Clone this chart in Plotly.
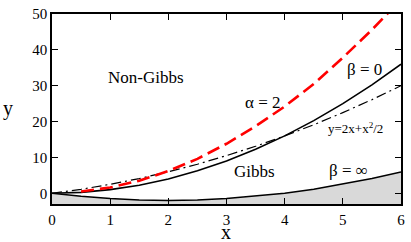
import plotly.graph_objects as go

# Read values from the reference picture
x_vals = [0, 0.5, 1, 1.5, 2, 2.5, 3, 3.5, 4, 4.5, 5, 5.5, 6]
beta0 = [0, 0.25, 1, 2.25, 4, 6.25, 9, 12.25, 16, 20.25, 25, 30.25, 36]
dashdot = [0, 1.1, 2.5, 4.1, 6, 8.1, 10.5, 13.1, 16, 19.1, 22.5, 26.1, 30]
alpha_x = [0.5, 1, 1.5, 2, 2.5, 3, 3.5, 4, 4.5, 5, 5.5, 6]
alpha2 = [0.5, 1.6, 3.5, 6.2, 9.6, 13.8, 18.7, 24.2, 30.5, 37.8, 45.6, 54]
beta_inf = [0, -0.85, -1.45, -1.85, -2, -1.9, -1.5, -0.85, 0, 1.1, 2.5, 4.1, 5.9]
baseline = [-3] * len(x_vals)

x_ticks = [0, 1, 2, 3, 4, 5, 6]
y_ticks = [0, 10, 20, 30, 40, 50]

FONT = "Liberation Serif, Times New Roman, serif"

fig = go.Figure()
fig.add_trace(go.Scatter(x=x_vals, y=baseline, mode="lines",
                         line=dict(width=0), showlegend=False, hoverinfo="skip"))
fig.add_trace(go.Scatter(x=x_vals, y=beta_inf, mode="lines", fill="tonexty",
                         fillcolor="#d9d9d9", line=dict(color="black", width=1.5),
                         showlegend=False))
fig.add_trace(go.Scatter(x=x_vals, y=beta0, mode="lines",
                         line=dict(color="black", width=1.6), showlegend=False))
fig.add_trace(go.Scatter(x=x_vals, y=dashdot, mode="lines",
                         line=dict(color="black", width=1.2, dash="10px,4px,2px,4px"),
                         showlegend=False))
fig.add_trace(go.Scatter(x=alpha_x, y=alpha2, mode="lines",
                         line=dict(color="red", width=2.6, dash="13px,6px"),
                         showlegend=False))

labels = [
    (1.61, 32.4, "Non-Gibbs", 17),
    (5.37, 34.6, "β = 0", 17),
    (3.62, 25.3, "α = 2", 17),
    (5.22, 18.3, "y=2x+x<sup>2</sup>/2", 13),
    (3.48, 6.0, "Gibbs", 17),
    (5.1, 6.3, "β = ∞", 17),
]
anns = [dict(x=lx, y=ly, text=t, showarrow=False, xref="x", yref="y",
             font=dict(family=FONT, size=s, color="black"))
        for lx, ly, t, s in labels]

W, H = 411, 242
L, R, T, B = 52, 6, 6, 38
pw, ph = W - L - R, H - T - B
anns.append(dict(xref="paper", yref="paper", x=(7 - L) / pw, y=(H - B - 104) / ph,
                 xanchor="center", yanchor="middle", text="y", showarrow=False,
                 font=dict(family=FONT, size=20, color="black")))
anns.append(dict(xref="paper", yref="paper", x=(228 - L) / pw, y=(H - B - 247) / ph,
                 xanchor="center", yanchor="bottom", text="x", showarrow=False,
                 font=dict(family=FONT, size=20, color="black")))

axis_common = dict(showline=True, linecolor="black", linewidth=1.5, mirror="ticks",
                   ticks="inside", ticklen=6, tickwidth=1.2, tickcolor="black",
                   showgrid=False, zeroline=False, ticklabeloverflow="allow",
                   tickfont=dict(family=FONT, size=15, color="black"))

fig.update_layout(
    width=W, height=H,
    margin=dict(l=L, r=R, t=T, b=B),
    paper_bgcolor="white", plot_bgcolor="white",
    xaxis=dict(range=[0, 6], tickvals=x_ticks, ticklabelstandoff=1, **axis_common),
    yaxis=dict(range=[-3, 50], tickvals=y_ticks, **axis_common),
    annotations=anns,
)

fig.write_html("out.html", config={"displayModeBar": False},
               post_script="document.body.style.margin='0';")
